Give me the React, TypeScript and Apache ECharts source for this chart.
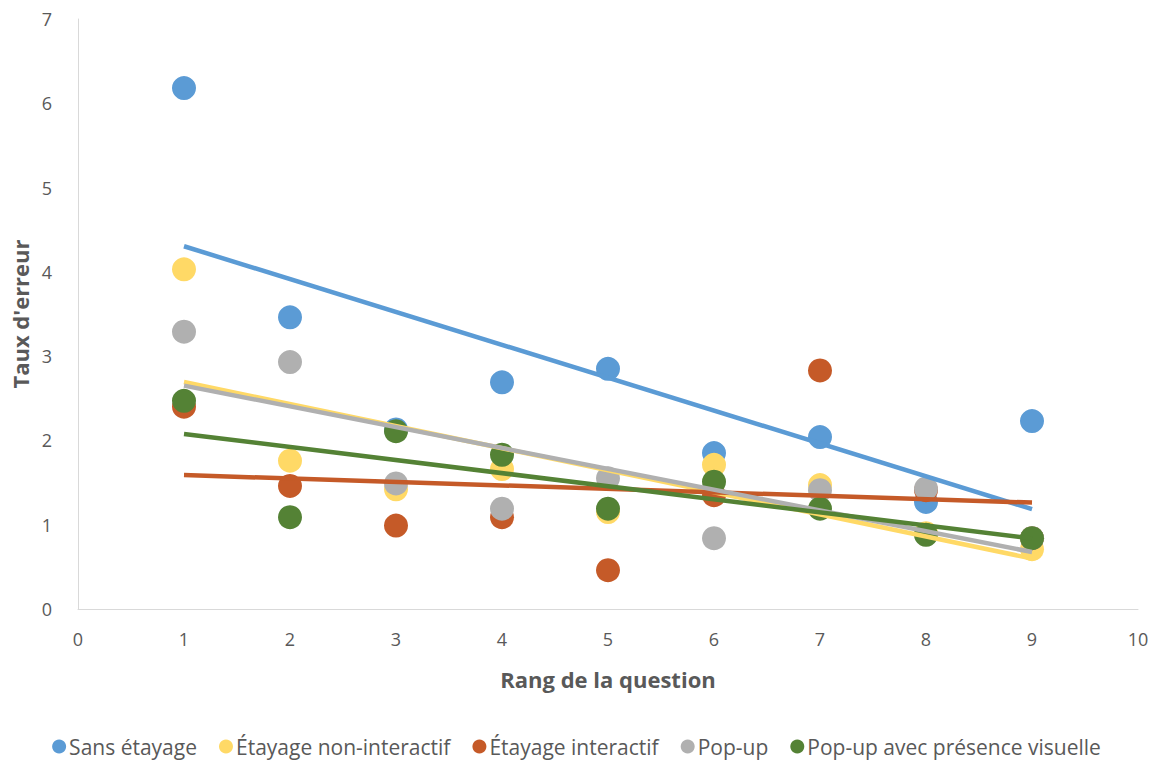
import React, { useEffect, useRef } from "react";
import * as echarts from "echarts";

const questionRanks = [1, 2, 3, 4, 5, 6, 7, 8, 9];
const seriesNames = [
  "Sans étayage",
  "Étayage non-interactif",
  "Étayage interactif",
  "Pop-up",
  "Pop-up avec présence visuelle",
];
const sansEtayage = [6.18, 3.46, 2.13, 2.69, 2.85, 1.85, 2.04, 1.27, 2.23];
const etayageNonInteractif = [4.03, 1.76, 1.42, 1.66, 1.15, 1.71, 1.47, 0.9, 0.71];
const etayageInteractif = [2.4, 1.46, 0.99, 1.09, 0.46, 1.35, 2.83, 1.41, 0.84];
const popUp = [3.29, 2.93, 1.49, 1.19, 1.55, 0.84, 1.41, 1.43, 0.84];
const popUpPresence = [2.47, 1.09, 2.11, 1.83, 1.19, 1.51, 1.19, 0.88, 0.84];
const colors = ["#5b9bd5", "#ffd966", "#c55a28", "#b0b0b0", "#548235"];
const xTicks = [0, 10];
const yTicks = [0, 7];

function trend(xs: number[], ys: number[]): number[][] {
  const n = xs.length;
  const mx = xs.reduce((a, b) => a + b, 0) / n;
  const my = ys.reduce((a, b) => a + b, 0) / n;
  let num = 0;
  let den = 0;
  for (let i = 0; i < n; i++) {
    num += (xs[i] - mx) * (ys[i] - my);
    den += (xs[i] - mx) * (xs[i] - mx);
  }
  const s = num / den;
  const b = my - s * mx;
  const x0 = xs[0];
  const x1 = xs[n - 1];
  return [
    [x0, b + s * x0],
    [x1, b + s * x1],
  ];
}

export default function App() {
  const ref = useRef<HTMLDivElement>(null);
  useEffect(() => {
    if (!ref.current) return;
    const chart = echarts.init(ref.current, null, { renderer: "svg" });
    const all = [sansEtayage, etayageNonInteractif, etayageInteractif, popUp, popUpPresence];
    const scatter = all.map((vals, i) => ({
      name: seriesNames[i],
      type: "scatter",
      symbol: "circle",
      symbolSize: 24,
      itemStyle: { color: colors[i], opacity: 1 },
      z: 2,
      data: questionRanks.map((x, j) => [x, vals[j]]),
    }));
    const lines = all.map((vals, i) => ({
      name: seriesNames[i] + " tendance",
      type: "line",
      showSymbol: false,
      symbol: "none",
      silent: true,
      lineStyle: { color: colors[i], width: 4.5 },
      z: 3,
      data: trend(questionRanks, vals),
    }));
    const labelColor = "#595959";
    chart.setOption({
      animation: false,
      textStyle: { fontFamily: "Open Sans" },
      grid: { left: 78, right: 15, top: 19, bottom: 153, containLabel: false, outerBoundsMode: "none" },
      legend: {
        data: seriesNames.map((n) => ({ name: n, icon: "circle" })),
        bottom: 0,
        left: "center",
        itemWidth: 14,
        itemHeight: 14,
        itemGap: 22,
        textStyle: { color: labelColor, fontSize: 21, fontFamily: "Open Sans", padding: [0, 0, 0, -2] },
      },
      xAxis: {
        type: "value",
        min: xTicks[0],
        max: xTicks[1],
        interval: 1,
        name: "Rang de la question",
        nameLocation: "middle",
        nameGap: 59,
        nameTextStyle: { color: labelColor, fontSize: 22, fontWeight: "bold", fontFamily: "Open Sans" },
        axisLine: { lineStyle: { color: "#d9d9d9" } },
        axisTick: { show: false },
        splitLine: { show: false },
        axisLabel: { color: labelColor, fontSize: 18, margin: 21 },
      },
      yAxis: {
        type: "value",
        min: yTicks[0],
        max: yTicks[1],
        interval: 1,
        name: "Taux d'erreur",
        nameLocation: "middle",
        nameGap: 47,
        nameTextStyle: { color: labelColor, fontSize: 22, fontWeight: "bold", fontFamily: "Open Sans" },
        axisLine: { show: true, lineStyle: { color: "#d9d9d9" } },
        axisTick: { show: false },
        splitLine: { show: false },
        axisLabel: { color: labelColor, fontSize: 18, margin: 26 },
      },
      series: [...scatter, ...lines],
    });
    return () => chart.dispose();
  }, []);
  return <div ref={ref} style={{ width: 1153, height: 762, position: "absolute", left: 0, top: 0 }} />;
}
